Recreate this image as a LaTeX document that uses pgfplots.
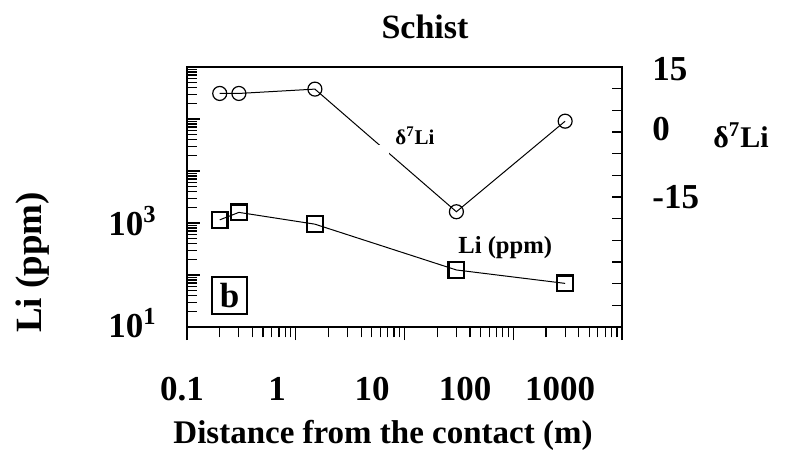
\documentclass[border=0pt]{standalone}
\usepackage{fontspec}
\setmainfont{Liberation Serif}
\usepackage{pgfplots}
\pgfplotsset{compat=1.18}
\begin{document}
\begin{tikzpicture}
\path[use as bounding box] (-93.5pt,-67.5pt) rectangle (299pt,163.5pt);
\begin{axis}[
  at={(0pt,0pt)}, anchor=south west,
  scale only axis, width=217.5pt, height=130pt,
  xmode=log, ymode=log,
  xmin=0.1, xmax=1000, ymin=10, ymax=1000000,
  xtick={0.1,1,10,100,1000},
  ytick={10,100,1000,10000,100000,1000000},
  xticklabels=\empty, yticklabels=\empty,
  xtick pos=bottom, ytick pos=left,
  xtick align=outside, ytick align=inside,
  major tick length=6.5pt, minor tick length=5.2pt,
  axis line style={line width=0.6pt},
  every tick/.style={line width=0.6pt, black},
  clip=false,
]
\addplot[black, line width=0.5pt, mark=square, mark size=3.9pt,
  mark options={line width=1.1pt, solid}] coordinates {
  (0.2,1150) (0.3,1600) (1.5,950) (30,125) (300,69)};
\end{axis}
\begin{axis}[
  at={(0pt,0pt)}, anchor=south west,
  scale only axis, width=217.5pt, height=130pt,
  xmode=log, xmin=0.1, xmax=1000,
  ymin=-45, ymax=15,
  axis x line=none, axis y line*=right,
  ytick={-40,-35,...,10},
  yticklabels=\empty,
  ytick align=inside,
  major tick length=5pt,
  axis line style={line width=0.6pt},
  every tick/.style={line width=0.6pt, black},
  clip=false,
]
\addplot[black, line width=0.5pt, mark=o, mark size=3.5pt,
  mark options={line width=0.6pt, solid}] coordinates {
  (0.2,8.9) (0.3,8.9) (1.5,9.9) (30,-18.4) (300,2.5)};
\end{axis}
% gap in line near label
\fill[white] (95.5pt,86pt) rectangle (101pt,91pt);
% title
\node[anchor=base, font=\fontsize{17}{20}\selectfont\bfseries] at (119pt,144.5pt) {Schist};
% x tick labels
\begin{scope}[every node/.style={anchor=base, font=\fontsize{17.5}{20}\selectfont\bfseries}]
\node at (-2.5pt,-36.5pt) {0.1};
\node at (45pt,-36.5pt) {1};
\node at (92.5pt,-36.5pt) {10};
\node at (139pt,-36.5pt) {100};
\node at (186.5pt,-36.5pt) {1000};
\end{scope}
\node[anchor=base, font=\fontsize{16.5}{20}\selectfont\bfseries] at (98pt,-58pt) {Distance from the contact (m)};
% left y labels
\begin{scope}[every node/.style={anchor=base east, font=\fontsize{17.5}{20}\selectfont\bfseries, inner sep=0pt}]
\node at (-15pt,46pt) {10\textsuperscript{3}};
\node at (-15pt,-5pt) {10\textsuperscript{1}};
\end{scope}
\node[anchor=base, rotate=90, inner sep=0pt, font=\fontsize{18.5}{20}\selectfont\bfseries] at (-72.5pt,32.25pt) {Li (ppm)};
% right y labels
\begin{scope}[every node/.style={anchor=base west, font=\fontsize{17.5}{20}\selectfont\bfseries, inner sep=0pt}]
\node at (232.5pt,123.5pt) {15};
\node at (232.5pt,93.5pt) {0};
\node at (232.5pt,59.5pt) {-15};
\end{scope}
\node[anchor=base west, inner sep=0pt, font=\fontsize{15}{18}\selectfont\bfseries] at (263pt,90pt) {δ\textsuperscript{7}Li};
% inside labels
\node[anchor=base west, inner sep=0pt, font=\fontsize{10.5}{12}\selectfont\bfseries] at (104pt,91.5pt) {δ\textsuperscript{7}Li};
\node[anchor=base west, inner sep=0pt, font=\fontsize{12.3}{14}\selectfont\bfseries] at (135.5pt,37pt) {Li (ppm)};
\node[draw, line width=0.6pt, minimum width=17.5pt, minimum height=18.5pt, inner sep=0pt,
  font=\fontsize{17.5}{20}\selectfont\bfseries] at (21.25pt,15.75pt) {b};
\end{tikzpicture}
\end{document}
